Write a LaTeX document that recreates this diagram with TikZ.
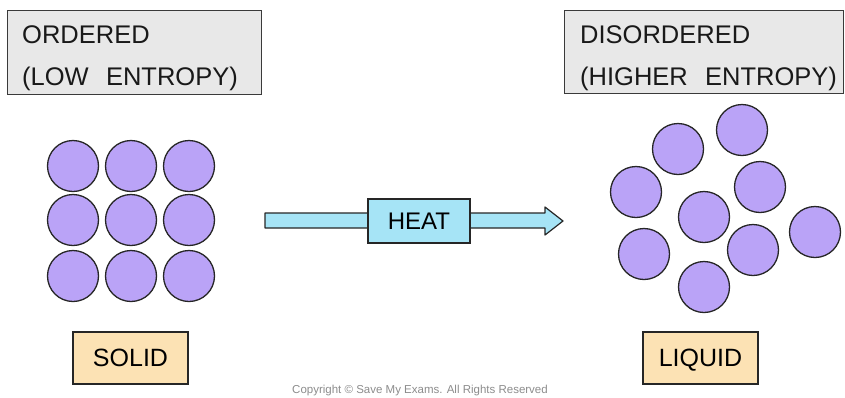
\documentclass[tikz,border=0pt]{standalone}
\usepackage{fontspec}
\setmainfont{Liberation Sans}
\definecolor{boxgray}{HTML}{E8E8E8}
\definecolor{edgegray}{HTML}{3A3A3A}
\definecolor{particle}{HTML}{BAA3F7}
\definecolor{heatblue}{HTML}{A6E4F6}
\definecolor{labelorange}{HTML}{FCE2B4}
\begin{document}
\begin{tikzpicture}[x=1pt,y=-1pt,
  titlebox/.style={draw=edgegray, fill=boxgray, line width=1.2pt, anchor=north west, inner sep=0pt},
  titletext/.style={anchor=base west, inner sep=0pt, font=\fontsize{25.5}{25.5}\selectfont, text=black!90},
  ball/.style={circle, draw=black!85, fill=particle, line width=1.3pt, minimum size=51pt, inner sep=0pt},
  statebox/.style={draw=black!85, fill=labelorange, line width=1.2pt, minimum width=115pt, minimum height=52pt, inner sep=0pt, text height=18pt, text depth=2pt, font=\fontsize{25}{25}\selectfont},
  heatbox/.style={draw=black!85, fill=heatblue, line width=1.2pt, minimum width=102pt, minimum height=44pt, inner sep=0pt, font=\fontsize{24}{24}\selectfont}]
\useasboundingbox (0,0) rectangle (845,397);

% title boxes
\node[titlebox, minimum width=254pt, minimum height=84pt] (lbox) at (7,10) {};
\node[titletext] (l1) at (22,43) {ORDERED};
\node[titletext] (l2) at (22,85) {(LOW\hspace{0.4em} ENTROPY)};
\node[titlebox, minimum width=279pt, minimum height=83pt] (rbox) at (564,10) {};
\node[titletext] (r1) at (580,43) {DISORDERED};
\node[titletext] (r2) at (580,85) {(HIGHER\hspace{0.4em} ENTROPY)};

% solid lattice
\foreach \i/\x in {1/73,2/131,3/189}
  \foreach \j/\y in {1/166,2/220,3/276}
    \node[ball] (s\i\j) at (\x,\y) {};

% liquid particles
\node[ball] (q1) at (678,149) {};
\node[ball] (q2) at (742,130) {};
\node[ball] (q3) at (636,192) {};
\node[ball] (q4) at (760,187) {};
\node[ball] (q5) at (704,217) {};
\node[ball] (q6) at (815,232) {};
\node[ball] (q7) at (644,254) {};
\node[ball] (q8) at (753,250) {};
\node[ball] (q9) at (704,287) {};

% heat arrow
\draw[draw=black!85, fill=heatblue, line width=1.2pt, line join=round]
  (265,213) -- (545,213) -- (545,207) -- (563,221) -- (545,235) -- (545,228) -- (265,228) -- cycle;
\node[heatbox] (heat) at (419,221) {HEAT};

% state labels
\node[statebox] (solid) at (130.5,358) {SOLID};
\node[statebox] (liquid) at (700.5,358) {LIQUID};

% copyright
\node[font=\fontsize{11.5}{11.5}\selectfont, text=black!45] (copy) at (420,391) {Copyright \textcopyright{} Save My Exams. All Rights Reserved};
\end{tikzpicture}
\end{document}
